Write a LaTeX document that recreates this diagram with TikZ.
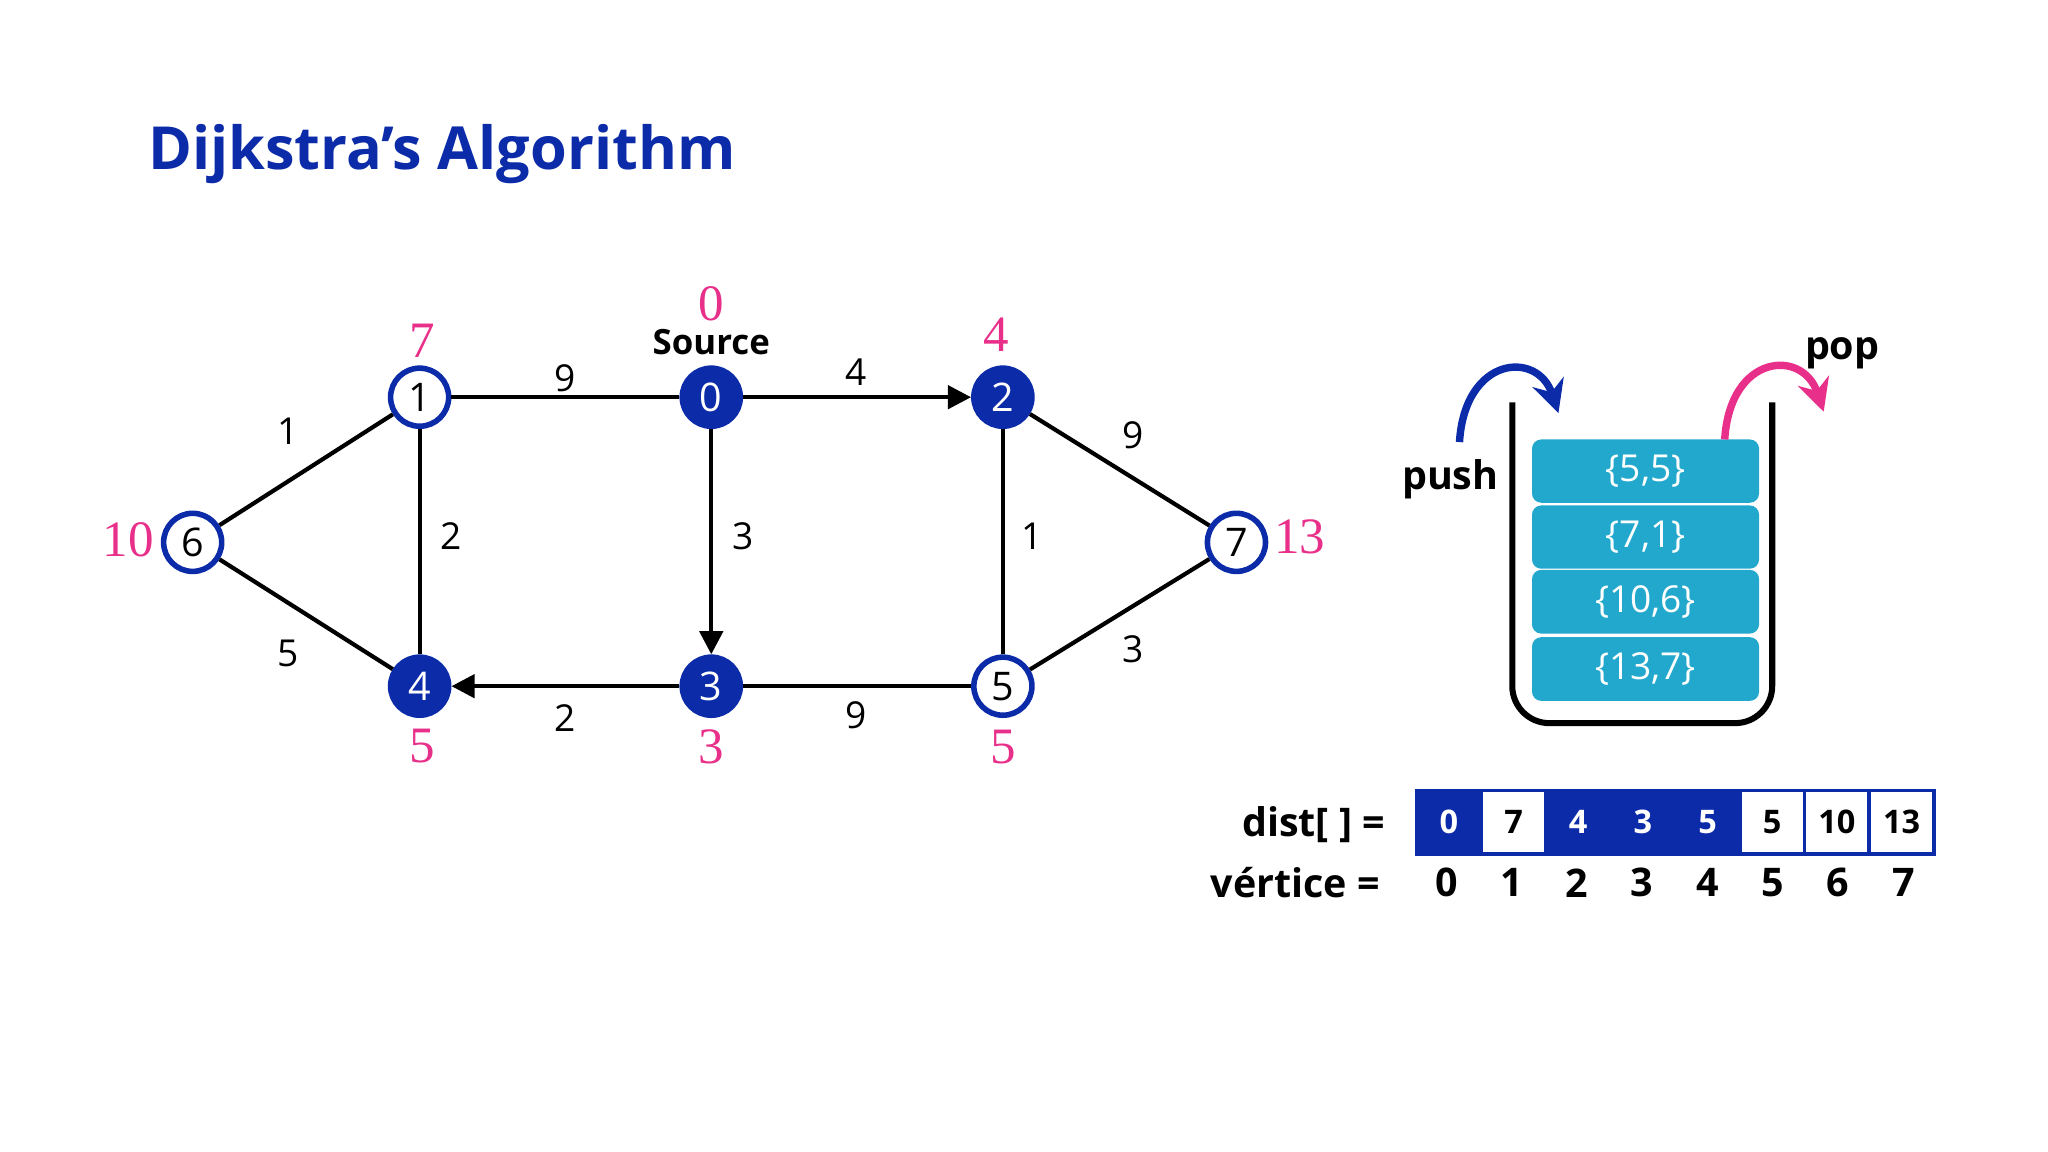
\documentclass[tikz,border=0pt]{standalone}
\usepackage{fontspec}
\setmainfont{Open Sans}
\newfontfamily\serifnum{Liberation Serif}
\usetikzlibrary{arrows.meta}
\definecolor{dblue}{HTML}{0B2BA8}
\definecolor{pinkc}{HTML}{E8308A}
\definecolor{teal}{HTML}{22A8CC}
\begin{document}
\begin{tikzpicture}[x=0.01cm,y=-0.01cm,
  v/.style={circle,draw=dblue,line width=1.2pt,minimum size=0.44cm,inner sep=0pt,fill=white,font=\fontsize{8.5}{10}\selectfont},
  vf/.style={v,fill=dblue,text=white},
  e/.style={line width=0.9pt},
  ea/.style={e,-{Triangle[length=5pt,width=5pt]}},
  w/.style={font=\fontsize{8}{10}\selectfont},
  d/.style={text=pinkc,font=\serifnum\fontsize{11}{13}\selectfont},
  item/.style={fill=teal,rounded corners=2pt,minimum width=1.72cm,minimum height=0.4cm,text=white,font=\fontsize{8}{10}\selectfont},
  cell/.style={draw=dblue,line width=0.8pt,minimum width=0.49cm,minimum height=0.48cm,inner sep=0pt,font=\bfseries\fontsize{7}{9}\selectfont},
  cellf/.style={cell,fill=dblue,text=white},
  lab/.style={font=\bfseries\fontsize{8.5}{10}\selectfont}]
\useasboundingbox (0,0) rectangle (1552,873);
\node[anchor=west,text=dblue,font=\bfseries\fontsize{12.8}{15}\selectfont] (title) at (100,117) {Dijkstra's Algorithm};
\node[v]  (n1) at (318,301) {1};
\node[vf] (n0) at (539,301) {0};
\node[vf] (n2) at (760,301) {2};
\node[v]  (n6) at (146,411) {6};
\node[v]  (n7) at (937,411) {7};
\node[vf] (n4) at (318,520) {4};
\node[vf] (n3) at (539,520) {3};
\node[v]  (n5) at (760,520) {5};
\draw[e] (n6)--(n1); \draw[e] (n1)--(n0); \draw[ea] (n0)--(n2);
\draw[e] (n2)--(n7); \draw[e] (n1)--(n4); \draw[ea] (n0)--(n3);
\draw[e] (n2)--(n5); \draw[e] (n6)--(n4); \draw[ea] (n3)--(n4);
\draw[e] (n3)--(n5); \draw[e] (n5)--(n7);
\node[w] (w1) at (218,327) {1}; \node[w] (w2) at (428,287) {9};
\node[w] (w3) at (649,282) {4}; \node[w] (w4) at (859,330) {9};
\node[w] (w5) at (342,406) {2}; \node[w] (w6) at (563,406) {3};
\node[w] (w7) at (782,406) {1}; \node[w] (w8) at (218,495) {5};
\node[w] (w9) at (428,544) {2}; \node[w] (w10) at (649,542) {9};
\node[w] (w11) at (859,492) {3};
\node[d] (d0) at (539,230) {0};
\node[font=\bfseries\fontsize{7.5}{9}\selectfont] (src) at (539,259) {Source};
\node[d] (d1) at (320,258) {7}; \node[d] (d2) at (755,254) {4};
\node[d] (d6) at (97,409) {10}; \node[d] (d7) at (985,407) {13};
\node[d] (d4) at (320,565) {5}; \node[d] (d3) at (539,566) {3};
\node[d] (d5) at (760,566) {5};
% container
\draw[line width=1.3pt,rounded corners=8pt] (1146,305) -- (1146,548) -- (1343,548) -- (1343,305);
\node[item] (i1) at (1247,357) {\{5,5\}};
\node[item] (i2) at (1247,407) {\{7,1\}};
\node[item] (i3) at (1247,456) {\{10,6\}};
\node[item] (i4) at (1247,507) {\{13,7\}};
\coordinate (ps) at (1106,335); \coordinate (pe) at (1181,313);
\draw[dblue,line width=1.6pt,-{Stealth[length=7pt,width=7pt]}] (ps) .. controls (1110,270) and (1165,265) .. (pe);
\coordinate (qs) at (1307,333); \coordinate (qe) at (1382,312);
\draw[pinkc,line width=1.6pt,-{Stealth[length=7pt,width=7pt]}] (qs) .. controls (1311,268) and (1366,264) .. (qe);
\node[lab] (push) at (1099,363) {push};
\node[lab] (pop) at (1396,268) {pop};
% dist
\foreach \i/\val/\f in {0/0/1,1/7/0,2/4/1,3/3/1,4/5/1,5/5/0,6/10/0,7/13/0}{
  \ifnum\f=1 \node[cellf] (c\i) at ({1098+49*\i},623) {\val};
  \else \node[cell] (c\i) at ({1098+49*\i},623) {\val}; \fi
  \node[lab] (x\i) at ({1096+49.5*\i},669) {\i};
}
\node[anchor=east,lab] (dl) at (1062,625) {dist[ ] =};
\node[anchor=east,lab] (vl) at (1058,669) {vértice =};
\end{tikzpicture}
\end{document}
